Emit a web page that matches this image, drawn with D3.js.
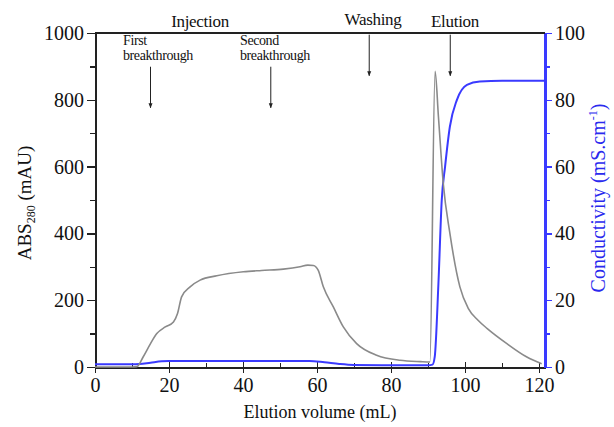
<!DOCTYPE html>
<html>
<head>
<meta charset="utf-8">
<script src="https://cdn.jsdelivr.net/npm/d3@7"></script>
<style>
  body { margin: 0; background: #fff; }
  svg text { font-family: "Liberation Serif", "Times New Roman", serif; }
  .axis path, .axis line { shape-rendering: crispEdges; }
</style>
</head>
<body>
<svg id="chart" width="614" height="427"></svg>
<script>
// absorbance trace (mAU) vs elution volume (mL)
var absVolume = [0, 5, 10, 11.3, 13, 15, 16.7, 19, 21.2, 22.3, 23.4, 25.7, 28.4, 32.9, 40.1, 45, 50.9, 55.4, 57.5, 59, 60.3, 61.7, 64.4, 67.1, 70.7, 76.1, 82.4, 88, 90.5, 91.9, 92.8, 94.1, 95.9, 98.6, 100.9, 103.5, 106, 111.3, 116.7, 120.7];
var absValue  = [0, 0, 0, 1, 30, 70, 100, 120, 135, 160, 210, 240, 260, 273, 285, 289, 293, 300, 305, 304, 290, 240, 180, 120, 70, 35, 20, 16, 15, 885, 750, 550, 400, 240, 175, 140, 115, 70, 30, 10];

// conductivity trace (mS/cm) vs elution volume (mL)
var condVolume = [0, 10, 12, 15, 18, 20, 40, 58, 62, 66, 70, 80, 90, 91.2, 91.8, 92.8, 93.7, 94.6, 95.9, 97.8, 100.5, 104, 110, 121.5];
var condValue  = [0.8, 0.8, 0.9, 1.3, 1.7, 1.8, 1.8, 1.8, 1.4, 0.9, 0.6, 0.5, 0.5, 0.7, 3, 25, 50, 60, 72, 80, 84.5, 85.5, 85.7, 85.7];

var xTicks = [0, 20, 40, 60, 80, 100, 120];
var yLeftTicks = [0, 200, 400, 600, 800, 1000];
var yRightTicks = [0, 20, 40, 60, 80, 100];

// annotations: label lines, arrow volume, arrow top/bottom (mAU)
var annoLabels = [["Injection"], ["First", "breakthrough"], ["Second", "breakthrough"], ["Washing"], ["Elution"]];
var annoArrowX = [null, 15, 47.5, 74.1, 96];
var annoArrowTop = [null, 899, 899, 995, 995];
var annoArrowBottom = [null, 776, 776, 872, 872];

var svg = d3.select("#chart");
var margin = {top: 33, right: 69, bottom: 60, left: 95};
var width = 614 - margin.left - margin.right,
    height = 427 - margin.top - margin.bottom;

var x = d3.scaleLinear().domain([0, 121.6]).range([0, width]);
var yL = d3.scaleLinear().domain([0, 1000]).range([height, 0]);
var yR = d3.scaleLinear().domain([0, 100]).range([height, 0]);

var g = svg.append("g").attr("transform", "translate(" + margin.left + "," + margin.top + ")");

var axisColor = "#222";
var blue = "#3a3aff";
var serif = "Liberation Serif, Times New Roman, serif";

// minor ticks first
g.append("g").attr("class", "axis")
  .attr("transform", "translate(0," + height + ")")
  .call(d3.axisBottom(x).tickValues(d3.range(10, 121, 20)).tickSize(4).tickFormat(""))
  .call(function(s){
    s.select(".domain").remove();
    s.selectAll("line").attr("y1", -4).attr("y2", 0).attr("stroke", axisColor).attr("stroke-width", 1.5);
  });
g.append("g").attr("class", "axis")
  .call(d3.axisLeft(yL).tickValues(d3.range(100, 1000, 200)).tickSize(5).tickFormat(""))
  .call(function(s){ s.select(".domain").remove(); s.selectAll("line").attr("stroke", axisColor).attr("stroke-width", 1.5); });
g.append("g").attr("class", "axis")
  .attr("transform", "translate(" + width + ",0)")
  .call(d3.axisRight(yR).tickValues(d3.range(10, 100, 20)).tickSize(5).tickFormat(""))
  .call(function(s){ s.select(".domain").remove(); s.selectAll("line").attr("stroke", blue).attr("stroke-width", 1.5); });

// main axes
var fmt = d3.format("d");
var xAxis = g.append("g").attr("class", "axis")
  .attr("transform", "translate(0," + height + ")")
  .call(d3.axisBottom(x).tickValues(xTicks).tickFormat(fmt).tickSize(6).tickSizeOuter(0).tickPadding(5));
xAxis.attr("font-family", serif);
xAxis.select(".domain").attr("stroke", axisColor).attr("stroke-width", 2);
xAxis.selectAll(".tick line").attr("y1", -5).attr("y2", 6).attr("stroke", axisColor).attr("stroke-width", 1.5);
xAxis.selectAll("text").attr("font-size", 20).attr("fill", "#111");

var yAxisL = g.append("g").attr("class", "axis")
  .call(d3.axisLeft(yL).tickValues(yLeftTicks).tickFormat(fmt).tickSize(8).tickSizeOuter(0).tickPadding(3));
yAxisL.attr("font-family", serif);
yAxisL.select(".domain").attr("stroke", axisColor).attr("stroke-width", 2);
yAxisL.selectAll("line").attr("stroke", axisColor).attr("stroke-width", 1.5);
yAxisL.selectAll("text").attr("font-size", 20).attr("fill", "#111");

var yAxisR = g.append("g").attr("class", "axis")
  .attr("transform", "translate(" + width + ",0)")
  .call(d3.axisRight(yR).tickValues(yRightTicks).tickFormat(fmt).tickSize(7).tickSizeOuter(0).tickPadding(3));
yAxisR.attr("font-family", serif);
yAxisR.select(".domain").attr("stroke", blue).attr("stroke-width", 2.5);
yAxisR.selectAll("line").attr("stroke", blue).attr("stroke-width", 1.5);
yAxisR.selectAll("text").attr("font-size", 20).attr("fill", "#111");

// top frame line
g.append("line")
  .attr("x1", 0).attr("x2", width).attr("y1", 0).attr("y2", 0)
  .attr("stroke", axisColor).attr("stroke-width", 2);

// traces
var absLine = d3.line()
  .x(function(d, i){ return x(absVolume[i]); })
  .y(function(d){ return yL(d); })
  .curve(d3.curveMonotoneX);
var condLine = d3.line()
  .x(function(d, i){ return x(condVolume[i]); })
  .y(function(d){ return yR(d); })
  .curve(d3.curveMonotoneX);

g.append("path").datum(condValue)
  .attr("d", condLine).attr("fill", "none")
  .attr("stroke", blue).attr("stroke-width", 2);
g.append("path").datum(absValue)
  .attr("d", absLine).attr("fill", "none")
  .attr("stroke", "#8a8a8a").attr("stroke-width", 1.6);

// axis titles
svg.append("text")
  .attr("x", margin.left + width / 2).attr("y", 418)
  .attr("text-anchor", "middle").attr("font-size", 18).attr("fill", "#111")
  .text("Elution volume (mL)");

var yl = svg.append("text")
  .attr("transform", "translate(31,203) rotate(-90)")
  .attr("text-anchor", "middle").attr("font-size", 19).attr("fill", "#111");
yl.append("tspan").text("ABS");
yl.append("tspan").attr("font-size", 12).attr("dy", 4).text("280");
yl.append("tspan").attr("dy", -4).text(" (mAU)");

var yr = svg.append("text")
  .attr("transform", "translate(605,198) rotate(-90)")
  .attr("text-anchor", "middle").attr("font-size", 20).attr("fill", "#2a2aee");
yr.append("tspan").text("Conductivity (mS.cm");
yr.append("tspan").attr("font-size", 12).attr("dy", -8).text("-1");
yr.append("tspan").attr("dy", 8).text(")");

// annotations
svg.append("defs").append("marker")
  .attr("id", "arrow").attr("viewBox", "0 0 10 10")
  .attr("refX", 9).attr("refY", 5)
  .attr("markerWidth", 5).attr("markerHeight", 5)
  .attr("orient", "auto")
  .append("path").attr("d", "M0,1 L10,5 L0,9 Z").attr("fill", "#222");

var annoTextX = [200, 123, 240, 373, 455];
var annoTextY = [27, 45, 45, 25, 27];
var annoSize = [17, 14, 14, 17, 17];
var annoAnchor = ["middle", "start", "start", "middle", "middle"];

annoLabels.forEach(function(lines, i){
  var t = svg.append("text")
    .attr("x", annoTextX[i]).attr("y", annoTextY[i])
    .attr("text-anchor", annoAnchor[i])
    .attr("font-size", annoSize[i]).attr("fill", "#111")
    .attr("letter-spacing", annoSize[i] < 15 ? -0.4 : -0.3);
  lines.forEach(function(l, j){
    t.append("tspan").attr("x", annoTextX[i]).attr("dy", j === 0 ? 0 : 15).text(l);
  });
  if (annoArrowX[i] !== null) {
    g.append("line")
      .attr("x1", x(annoArrowX[i])).attr("x2", x(annoArrowX[i]))
      .attr("y1", yL(annoArrowTop[i])).attr("y2", yL(annoArrowBottom[i]))
      .attr("stroke", "#222").attr("stroke-width", 1)
      .attr("marker-end", "url(#arrow)");
  }
});
</script>
</body>
</html>
